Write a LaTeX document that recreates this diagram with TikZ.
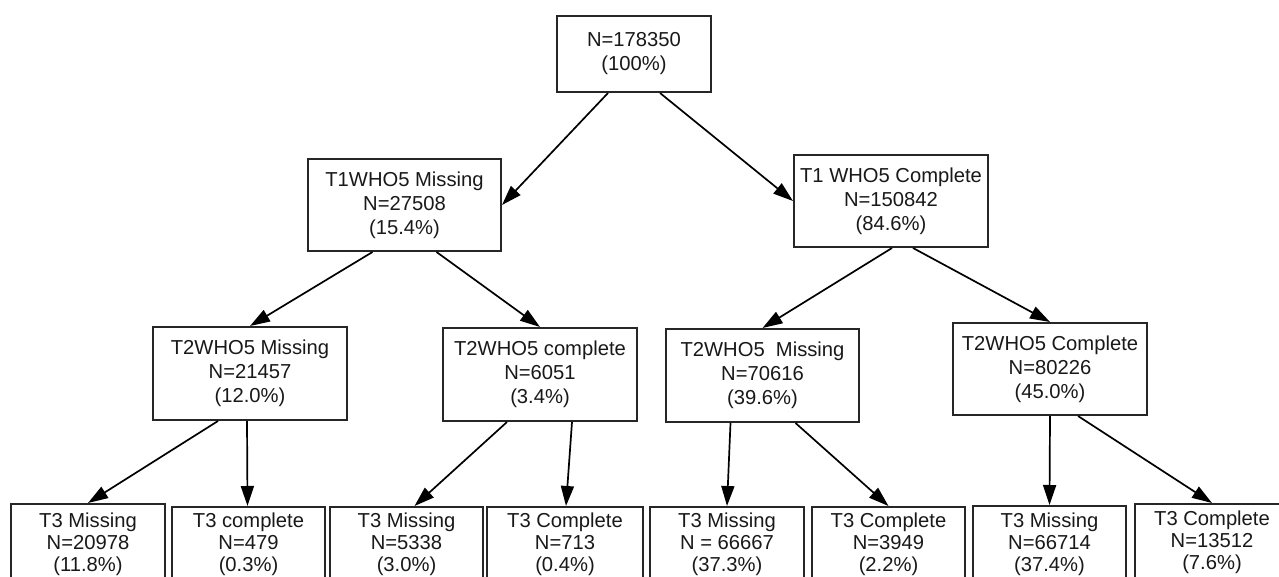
\documentclass[tikz,border=0pt]{standalone}
\usepackage{fontspec}
\setmainfont{Liberation Sans}
\usetikzlibrary{arrows.meta,calc}
\begin{document}
\begin{tikzpicture}[x=1pt,y=-1pt,
  box/.style={draw=black!85, line width=2pt, fill=white, inner sep=0pt, align=center, text=black!90,
    font=\fontsize{20.2}{24}\selectfont},
  bbox/.style={draw=black!85, line width=2pt, inner sep=0pt, minimum height=100pt, anchor=north},
  btext/.style={inner sep=0pt, align=center, anchor=north, text=black!90, font=\fontsize{20.2}{21.8}\selectfont},
  arr/.style={draw=black, line width=1.7pt, -{Triangle[length=20pt,width=13pt]}},
]
\useasboundingbox (0,0) rectangle (1279,577);
\clip (0,0) rectangle (1279,577);
\fill[white] (0,0) rectangle (1279,577);

% level 0
\node[box, minimum width=154pt, minimum height=76pt] (root) at (634,54) {N=178350\\(100\%)};
% level 1
\node[box, minimum width=193pt, minimum height=92pt] (t1m) at (404.5,205) {T1WHO5 Missing\\N=27508\\(15.4\%)};
\node[box, minimum width=194pt, minimum height=92pt] (t1c) at (891,201) {T1 WHO5 Complete\\N=150842\\(84.6\%)};
% level 2
\node[box, minimum width=194pt, minimum height=93pt] (t2ml) at (250,373.5) {T2WHO5 Missing\\N=21457\\(12.0\%)};
\node[box, minimum width=194pt, minimum height=93pt] (t2cl) at (540,374.5) {T2WHO5 complete\\N=6051\\(3.4\%)};
\node[box, minimum width=193pt, minimum height=93pt] (t2mr) at (762.5,375.5) {T2WHO5\ \ Missing\\N=70616\\(39.6\%)};
\node[box, minimum width=194pt, minimum height=92pt] (t2cr) at (1050,369) {T2WHO5 Complete\\N=80226\\(45.0\%)};
% level 3 boxes (cut by the picture's lower edge)
\node[bbox, minimum width=154pt] (b1) at (88,503) {};
\node[bbox, minimum width=153pt] (b2) at (248.5,506) {};
\node[bbox, minimum width=153pt] (b3) at (406.5,506) {};
\node[bbox, minimum width=156pt] (b4) at (565,506) {};
\node[bbox, minimum width=154pt] (b5) at (727,506) {};
\node[bbox, minimum width=153pt] (b6) at (888.5,506) {};
\node[bbox, minimum width=153pt] (b7) at (1049.5,505) {};
\node[bbox, minimum width=154pt] (b8) at (1212,503) {};
% level 3 texts
\node[btext] (b1t) at ($(b1.north)+(0,10)$) {T3 Missing\\N=20978\\(11.8\%)};
\node[btext] (b2t) at ($(b2.north)+(0,7)$) {T3 complete\\N=479\\(0.3\%)};
\node[btext] (b3t) at ($(b3.north)+(0,7)$) {T3 Missing\\N=5338\\(3.0\%)};
\node[btext] (b4t) at ($(b4.north)+(0,7)$) {T3 Complete\\N=713\\(0.4\%)};
\node[btext] (b5t) at ($(b5.north)+(0,7)$) {T3 Missing\\N = 66667\\(37.3\%)};
\node[btext] (b6t) at ($(b6.north)+(0,7)$) {T3 Complete\\N=3949\\(2.2\%)};
\node[btext] (b7t) at ($(b7.north)+(0,8)$) {T3 Missing\\N=66714\\(37.4\%)};
\node[btext] (b8t) at ($(b8.north)+(0,8)$) {T3 Complete\\N=13512\\(7.6\%)};

% connectors
\draw[arr] ([xshift=-26pt]root.south) -- (t1m.east);
\draw[arr] ([xshift=26pt]root.south) -- (t1c.west);
\draw[arr] ([xshift=-32pt]t1m.south) -- (t2ml.north);
\draw[arr] ([xshift=32pt]t1m.south) -- (t2cl.north);
\draw[arr] ([xshift=1pt]t1c.south) -- (t2mr.north);
\draw[arr] ([xshift=22pt]t1c.south) -- (t2cr.north);
\draw[arr] ([xshift=-32pt]t2ml.south) -- (b1.north);
\draw[arr] ([xshift=-3pt]t2ml.south) -- ([xshift=-1pt]b2.north);
\draw[arr] ([xshift=-33pt]t2cl.south) -- ([xshift=8pt]b3.north);
\draw[arr] ([xshift=32pt]t2cl.south) -- ([xshift=1pt]b4.north);
\draw[arr] ([xshift=-32pt]t2mr.south) -- (b5.north);
\draw[arr] ([xshift=33pt]t2mr.south) -- (b6.north);
\draw[arr] (t2cr.south) -- (b7.north);
\draw[arr] ([xshift=28pt]t2cr.south) -- (b8.north);
\end{tikzpicture}
\end{document}
